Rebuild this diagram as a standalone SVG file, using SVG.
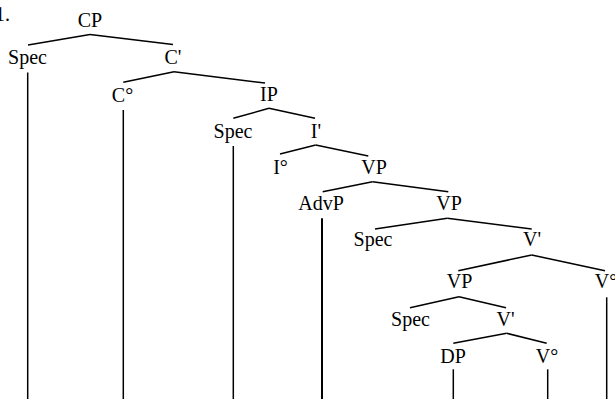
<svg xmlns="http://www.w3.org/2000/svg" width="615" height="399" viewBox="0 0 615 399">
<style>
text{font-family:"Liberation Serif","Times New Roman",serif;font-size:20px;fill:#000;text-anchor:middle}
.e line{stroke:#000;stroke-width:1.5;fill:none}
</style>
<rect width="615" height="399" fill="#fff"/>
<text x="-5" y="21" style="text-anchor:start">1.</text>
<g class="e" id="connectors">
<line x1="28" y1="45" x2="90" y2="34.5"/><line x1="90" y1="34.5" x2="173" y2="44.5"/>
<line x1="123.3" y1="82.3" x2="174" y2="71.7"/><line x1="174" y1="71.7" x2="265" y2="83"/>
<line x1="233.3" y1="118.3" x2="269" y2="108.3"/><line x1="269" y1="108.3" x2="315" y2="118.3"/>
<line x1="280" y1="154" x2="315.7" y2="145"/><line x1="315.7" y1="145" x2="368.3" y2="156"/>
<line x1="322.7" y1="191.7" x2="372.5" y2="181.7"/><line x1="372.5" y1="181.7" x2="448.3" y2="191.7"/>
<line x1="375" y1="229" x2="447.3" y2="218.3"/><line x1="447.3" y1="218.3" x2="531.7" y2="229"/>
<line x1="458.3" y1="270.7" x2="531.7" y2="255"/><line x1="531.7" y1="255" x2="605" y2="270.7"/>
<line x1="410" y1="307.7" x2="459" y2="296.7"/><line x1="459" y1="296.7" x2="506" y2="307.7"/>
<line x1="453.3" y1="343.3" x2="506.7" y2="333.3"/><line x1="506.7" y1="333.3" x2="546.7" y2="343.3"/>
<line x1="27.7" y1="72.5" x2="27.7" y2="399"/>
<line x1="123.3" y1="110" x2="123.3" y2="399"/>
<line x1="233.3" y1="146" x2="233.3" y2="399"/>
<line x1="322" y1="218.3" x2="322" y2="399" style="stroke-width:2"/>
<line x1="606.7" y1="297.3" x2="606.7" y2="399"/>
<line x1="453.3" y1="369.3" x2="453.3" y2="399"/>
<line x1="547.7" y1="369.3" x2="547.7" y2="399"/>
</g>
<g id="n-cp"><text x="90" y="27">CP</text></g>
<g id="n-spec1"><text x="27.5" y="64">Spec</text></g>
<g id="n-c1"><text x="173" y="64">C'</text></g>
<g id="n-c0"><text x="122.5" y="101.5">C°</text></g>
<g id="n-ip"><text x="269" y="101">IP</text></g>
<g id="n-spec2"><text x="233" y="138">Spec</text></g>
<g id="n-i1"><text x="316" y="138">I'</text></g>
<g id="n-i0"><text x="280.5" y="174">I°</text></g>
<g id="n-vp1"><text x="374" y="174">VP</text></g>
<g id="n-advp"><text x="321" y="210">AdvP</text></g>
<g id="n-vp2"><text x="449" y="210">VP</text></g>
<g id="n-spec3"><text x="373" y="246">Spec</text></g>
<g id="n-v1a"><text x="532" y="246">V'</text></g>
<g id="n-vp3"><text x="459.5" y="288">VP</text></g>
<g id="n-v0a"><text x="606" y="288">V°</text></g>
<g id="n-spec4"><text x="410.5" y="326">Spec</text></g>
<g id="n-v1b"><text x="505.5" y="326">V'</text></g>
<g id="n-dp"><text x="453" y="363">DP</text></g>
<g id="n-v0b"><text x="547" y="363">V°</text></g>
</svg>
